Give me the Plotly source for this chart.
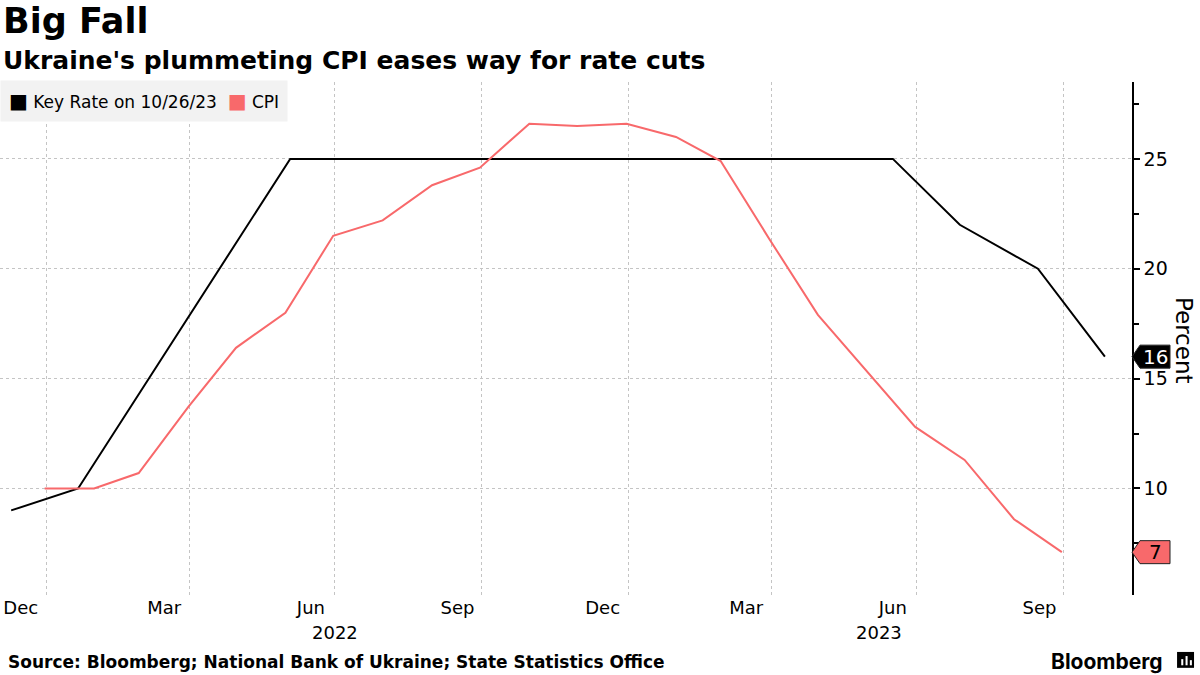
import plotly.graph_objects as go

# ---- data ----
key_rate_dates = ["2021-12-10", "2022-01-21", "2022-06-03", "2023-06-16",
                  "2023-07-28", "2023-09-15", "2023-10-27"]
key_rate = [9, 10, 25, 25, 22, 20, 16]

cpi_dates = ["2021-12-31", "2022-01-31", "2022-02-28", "2022-03-31", "2022-04-30",
             "2022-05-31", "2022-06-30", "2022-07-31", "2022-08-31", "2022-09-30",
             "2022-10-31", "2022-11-30", "2022-12-31", "2023-01-31", "2023-02-28",
             "2023-03-31", "2023-04-30", "2023-05-31", "2023-06-30", "2023-07-31",
             "2023-08-31", "2023-09-30"]
cpi = [10.0, 10.0, 10.7, 13.7, 16.4, 18.0, 21.5, 22.2, 23.8, 24.6, 26.6, 26.5,
       26.6, 26.0, 24.9, 21.3, 17.9, 15.3, 12.8, 11.3, 8.6, 7.1]

month_tick_vals = ["2021-12-16", "2022-03-16", "2022-06-16", "2022-09-16",
                   "2022-12-16", "2023-03-16", "2023-06-16", "2023-09-16"]
month_tick_text = ["Dec", "Mar", "Jun", "Sep", "Dec", "Mar", "Jun", "Sep"]
year_label_pos = ["2022-07-01", "2023-06-07"]
year_labels = ["2022", "2023"]

KEY_COLOR = "#000000"
CPI_COLOR = "#f8696b"
FONT = "DejaVu Sans"

fig = go.Figure()
fig.add_trace(go.Scatter(x=key_rate_dates, y=key_rate, mode="lines",
                         line=dict(color=KEY_COLOR, width=2), name="Key Rate on 10/26/23",
                         hoverinfo="skip"))
fig.add_trace(go.Scatter(x=cpi_dates, y=cpi, mode="lines",
                         line=dict(color=CPI_COLOR, width=2), name="CPI",
                         hoverinfo="skip"))

fig.update_layout(
    width=1200, height=675,
    margin=dict(l=0, r=68, t=82, b=80),
    paper_bgcolor="white", plot_bgcolor="white",
    showlegend=False,
    font=dict(family=FONT, color="black"),
    xaxis=dict(
        type="date", range=["2021-12-03", "2023-11-13"],
        tickvals=month_tick_vals, ticktext=month_tick_text,
        ticks="", showgrid=False, showline=False, zeroline=False,
        tickfont=dict(size=18, family=FONT, color="black"),
        minor=dict(dtick="M3", tick0="2022-01-01", showgrid=True,
                   gridcolor="#c4c4c4", griddash="dot", gridwidth=1, ticks=""),
    ),
    yaxis=dict(
        side="right", range=[5.15, 28.5],
        tickvals=[10, 15, 20, 25], ticks="outside", ticklen=6, tickwidth=1.5,
        tickcolor="black", showline=True, linecolor="black", linewidth=1.5,
        showgrid=True, gridcolor="#c4c4c4", griddash="dot", gridwidth=1,
        zeroline=False, tickfont=dict(size=19, family=FONT, color="black"),
        minor=dict(dtick=2.5, tick0=0, ticks="outside", ticklen=5,
                   tickcolor="black", tickwidth=1.5, showgrid=False),
    ),
)

ann = []
# Title & subtitle
ann.append(dict(text="<b>Big Fall</b>", xref="paper", yref="paper", x=0, y=1.118,
                xanchor="left", yanchor="middle", xshift=1, showarrow=False,
                font=dict(size=35, family=FONT, color="black")))
ann.append(dict(text="<b>Ukraine's plummeting CPI eases way for rate cuts</b>",
                xref="paper", yref="paper", x=0, y=1.041, xanchor="left",
                yanchor="middle", xshift=1, showarrow=False,
                font=dict(size=25, family=FONT, color="black")))
# Legend box
ann.append(dict(text=(f"<span style='color:{KEY_COLOR};font-size:20px'>■</span> Key Rate on 10/26/23  "
                      f"<span style='color:{CPI_COLOR};font-size:20px'>■</span> CPI"),
                xref="paper", yref="paper", x=0, y=0.962, xanchor="left",
                yanchor="middle", showarrow=False, bgcolor="#f2f2f2", borderpad=8,
                font=dict(size=17, family=FONT, color="black")))
# Year labels
for xp, yl in zip(year_label_pos, year_labels):
    ann.append(dict(text=yl, xref="x", yref="paper", x=xp, y=-0.074,
                    xanchor="center", yanchor="middle", showarrow=False,
                    font=dict(size=18, family=FONT, color="black")))
# Axis title
ann.append(dict(text="Percent", xref="paper", yref="paper", x=1.046, y=0.497,
                xanchor="center", yanchor="middle", textangle=90, showarrow=False,
                font=dict(size=23, family=FONT, color="black")))
# Source
ann.append(dict(text="<b>Source: Bloomberg; National Bank of Ukraine; State Statistics Office</b>",
                xref="paper", yref="paper", x=0, y=-0.131, xanchor="left",
                yanchor="middle", xshift=6, showarrow=False,
                font=dict(size=17, family=FONT, color="black")))
ann.append(dict(text="<b>Bloomberg</b>", xref="paper", yref="paper", x=1.029,
                y=-0.129, xanchor="right", yanchor="middle", showarrow=False,
                font=dict(size=21, family="Inter", color="black")))

# Last-value tags
shapes = []
tag_path = "M0,0 L8,11.5 L38,11.5 L38,-11.5 L8,-11.5 Z"
for val, fill, txtcol in [(key_rate[-1], KEY_COLOR, "white"), (cpi[-1], CPI_COLOR, "black")]:
    shapes.append(dict(type="path", xref="paper", yref="y", xsizemode="pixel",
                       ysizemode="pixel", xanchor=1, yanchor=val, path=tag_path,
                       fillcolor=fill, line=dict(color="#222222", width=1), layer="above"))
    ann.append(dict(text=f"{val:.0f}", xref="paper", yref="y", x=1, y=val, xanchor="center",
                    yanchor="middle", xshift=23, showarrow=False,
                    font=dict(size=20, family=FONT, color=txtcol)))

# Bloomberg icon
shapes.append(dict(type="rect", xref="paper", yref="paper", x0=1.0398, x1=1.0548,
                   y0=-0.142, y1=-0.111, fillcolor="black", line=dict(width=0)))
for bx, bh in [(1.0435, 0.012), (1.0473, 0.018), (1.0511, 0.010)]:
    shapes.append(dict(type="rect", xref="paper", yref="paper", x0=bx, x1=bx + 0.0018,
                       y0=-0.137, y1=-0.137 + bh, fillcolor="white", line=dict(width=0)))

fig.update_layout(annotations=ann, shapes=shapes)
fig.write_html("out.html", config={"displayModeBar": False},
               post_script="document.body.style.margin='0';document.body.style.overflow='hidden';")
